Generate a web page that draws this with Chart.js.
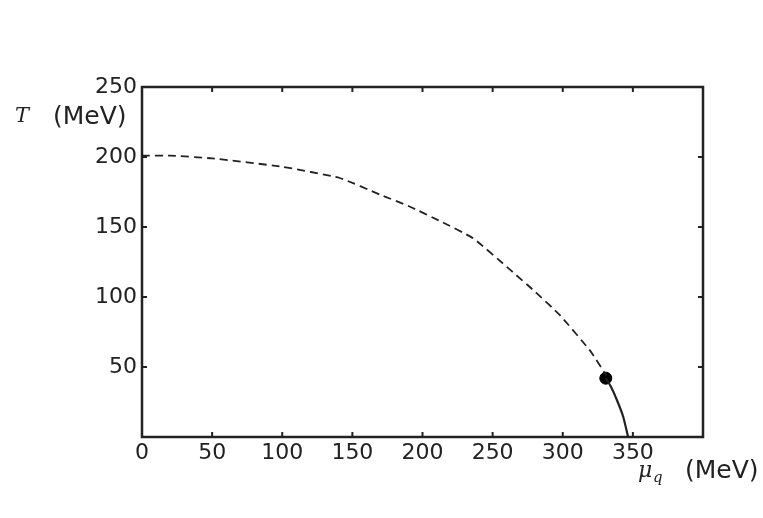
<!DOCTYPE html>
<html>
<head>
<meta charset="utf-8">
<script src="https://cdn.jsdelivr.net/npm/chart.js@4"></script>
<style>
  html, body { margin: 0; padding: 0; background: #fff; }
  #wrap { width: 763px; height: 518px; }
</style>
</head>
<body>
<div id="wrap"><canvas id="grafico"></canvas></div>
<script>
// fase: linha tracejada (crossover) e linha cheia (primeira ordem)
const muCrossover = [0, 20, 50, 100, 141, 170, 190, 213, 236, 263, 280, 298, 320, 331];
const tCrossover = [201, 201, 199, 193, 185, 173, 165, 154, 142, 119, 104, 87, 61, 44];
const muPrimeira = [330.7, 334.3, 338.6, 343.1, 346.6];
const tPrimeira = [42, 36, 26.4, 14.5, 0];
const pontoCritico = { mu: 330.7, t: 42 };
const xTicks = [0, 50, 100, 150, 200, 250, 300, 350];
const yTicks = [50, 100, 150, 200, 250];

const tickFont = { family: "DejaVu Sans", size: 22 };

const pares = (xs, ys) => xs.map((x, i) => ({ x, y: ys[i] }));

// marcas para dentro nos quatro lados + rótulos dos eixos
const marcasPlugin = {
  id: "marcas",
  afterDatasetsDraw(chart) {
    const { ctx, chartArea: a, scales } = chart;
    const len = 5;
    ctx.save();
    ctx.strokeStyle = "#222";
    ctx.lineWidth = 2;
    xTicks.forEach(v => {
      if (v === 0) return;
      const px = scales.x.getPixelForValue(v);
      ctx.beginPath();
      ctx.moveTo(px, a.bottom); ctx.lineTo(px, a.bottom - len);
      ctx.moveTo(px, a.top); ctx.lineTo(px, a.top + len);
      ctx.stroke();
    });
    yTicks.forEach(v => {
      if (v === 250) return;
      const py = scales.y.getPixelForValue(v);
      ctx.beginPath();
      ctx.moveTo(a.left, py); ctx.lineTo(a.left + len, py);
      ctx.moveTo(a.right, py); ctx.lineTo(a.right - len, py);
      ctx.stroke();
    });
    ctx.lineWidth = 2.5;
    ctx.strokeRect(a.left, a.top, a.right - a.left, a.bottom - a.top);

    ctx.fillStyle = "#222";
    ctx.textBaseline = "alphabetic";
    ctx.font = "italic 21px 'DejaVu Serif'";
    ctx.fillText("T", 15, 122);
    ctx.font = "25px 'DejaVu Sans'";
    ctx.fillText("(MeV)", 53, 124);
    ctx.font = "italic 22px 'DejaVu Serif'";
    ctx.fillText("μ", 638, 477);
    ctx.font = "italic 15px 'DejaVu Serif'";
    ctx.fillText("q", 653, 482);
    ctx.font = "25px 'DejaVu Sans'";
    ctx.fillText("(MeV)", 685, 478);
    ctx.restore();
  }
};

new Chart(document.getElementById("grafico"), {
  type: "scatter",
  data: {
    datasets: [
      {
        data: pares(muCrossover, tCrossover),
        showLine: true,
        borderColor: "#222",
        borderWidth: 1.8,
        borderDash: [8, 5],
        pointRadius: 0,
        tension: 0.15
      },
      {
        data: pares(muPrimeira, tPrimeira),
        showLine: true,
        borderColor: "#222",
        borderWidth: 2.2,
        pointRadius: 0,
        tension: 0.2
      },
      {
        data: [{ x: pontoCritico.mu, y: pontoCritico.t }],
        pointRadius: 6,
        pointBackgroundColor: "#000",
        pointBorderColor: "#000"
      }
    ]
  },
  options: {
    responsive: true,
    maintainAspectRatio: false,
    animation: false,
    layout: { padding: { top: 87, right: 60, left: 0, bottom: 0 } },
    plugins: { legend: { display: false }, tooltip: { enabled: false } },
    scales: {
      x: {
        type: "linear",
        min: 0,
        max: 400,
        afterFit: s => { s.height = 81; },
        afterBuildTicks: s => { s.ticks = xTicks.map(v => ({ value: v })); },
        grid: { display: false, drawTicks: false },
        border: { display: false },
        ticks: { color: "#222", font: tickFont, padding: 3, maxRotation: 0 }
      },
      y: {
        type: "linear",
        min: 0,
        max: 250,
        afterFit: s => { s.width = 142; },
        afterBuildTicks: s => { s.ticks = yTicks.map(v => ({ value: v })); },
        grid: { display: false, drawTicks: false },
        border: { display: false },
        ticks: { color: "#222", font: tickFont, padding: 5 }
      }
    }
  },
  plugins: [marcasPlugin]
});
</script>
</body>
</html>
